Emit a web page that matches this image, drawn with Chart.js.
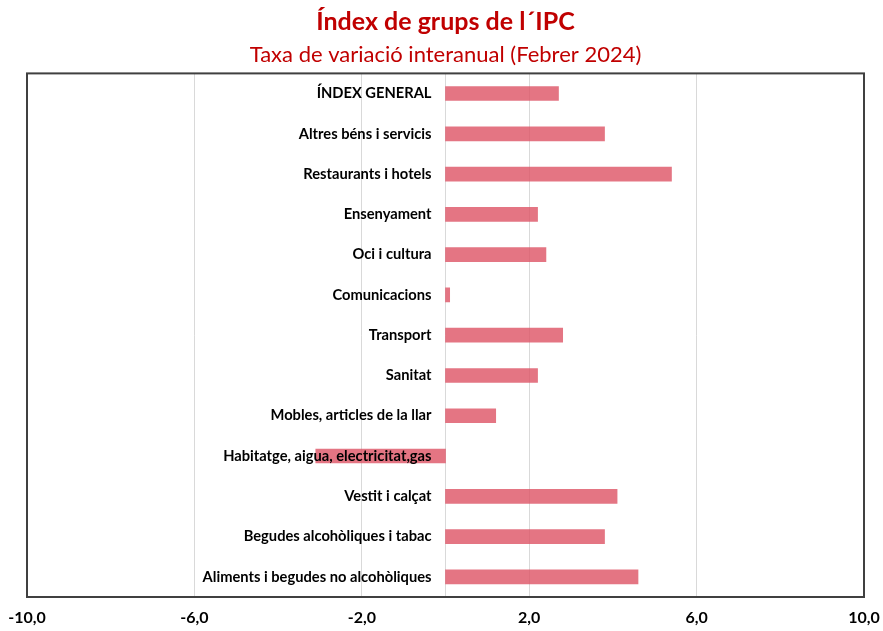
<!DOCTYPE html>
<html>
<head>
<meta charset="utf-8">
<script src="https://cdn.jsdelivr.net/npm/chart.js@4"></script>
<style>
  html, body { margin: 0; padding: 0; background: #fff; }
  #wrap { width: 883px; height: 631px; }
</style>
</head>
<body>
<div id="wrap"><canvas id="ipcChart"></canvas></div>
<script>
// Grups de l'IPC, de dalt a baix
const categories = [
    'ÍNDEX GENERAL',
    'Altres béns i servicis',
    'Restaurants i hotels',
    'Ensenyament',
    'Oci i cultura',
    'Comunicacions',
    'Transport',
    'Sanitat',
    'Mobles, articles de la llar',
    'Habitatge, aigua, electricitat,gas',
    'Vestit i calçat',
    'Begudes alcohòliques i tabac',
    'Aliments i begudes no alcohòliques'
];
// Taxa de variació interanual (%)
const values = [2.7, 3.8, 5.4, 2.2, 2.4, 0.1, 2.8, 2.2, 1.2, -3.1, 4.1, 3.8, 4.6];
const xTicks = [-10, -6, -2, 2, 6, 10];

const fontFamily = 'Lato, "Open Sans", sans-serif';

// marc de l'àrea del gràfic
const frame = {
    id: 'frame',
    afterDraw(chart) {
        const { ctx, chartArea: a } = chart;
        ctx.save();
        ctx.strokeStyle = '#404040';
        ctx.lineWidth = 2;
        ctx.strokeRect(a.left, a.top, a.right - a.left, a.bottom - a.top);
        ctx.restore();
    }
};

// etiquetes de categoria a l'esquerra del zero, per damunt de les barres
const groupLabels = {
    id: 'groupLabels',
    afterDatasetsDraw(chart) {
        const { ctx, scales: { x, y } } = chart;
        const x0 = x.getPixelForValue(0) - 14;
        ctx.save();
        ctx.font = 'bold 14.7px ' + fontFamily;
        ctx.fillStyle = '#000';
        ctx.textAlign = 'right';
        ctx.textBaseline = 'middle';
        categories.forEach((label, i) => {
            ctx.fillText(label, x0, y.getPixelForValue(i));
        });
        ctx.restore();
    }
};

const ctx = document.getElementById('ipcChart').getContext('2d');
new Chart(ctx, {
    type: 'bar',
    data: {
        labels: categories,
        datasets: [{
            data: values,
            backgroundColor: 'rgba(221, 82, 100, 0.8)',
            barThickness: 14
        }]
    },
    options: {
        indexAxis: 'y',
        responsive: true,
        maintainAspectRatio: false,
        animation: false,
        layout: { padding: { left: 27, right: 19, top: 0, bottom: 4 } },
        plugins: {
            legend: { display: false },
            tooltip: { enabled: false },
            title: {
                display: true,
                text: 'Índex de grups de l´IPC',
                color: '#C00000',
                font: { family: fontFamily, size: 25, weight: 'bold' },
                padding: { top: 7, bottom: 1 }
            },
            subtitle: {
                display: true,
                text: 'Taxa de variació interanual (Febrer 2024)',
                color: '#C00000',
                font: { family: fontFamily, size: 22 },
                padding: { top: 4, bottom: 5 }
            }
        },
        scales: {
            x: {
                min: -10,
                max: 10,
                afterBuildTicks: (axis) => { axis.ticks = xTicks.map(v => ({ value: v })); },
                afterFit: (axis) => {
                    axis.paddingLeft = 0;
                    axis.paddingRight = 0;
                    axis.height = 30;
                },
                grid: { color: '#d9d9d9', drawTicks: false },
                border: { display: false },
                ticks: {
                    padding: 11,
                    color: '#000',
                    font: { family: fontFamily, size: 16, weight: 'bold' },
                    callback: (v) => v.toFixed(1).replace('.', ',')
                }
            },
            y: {
                position: { x: 0 },
                grid: { display: false, drawTicks: false },
                border: { display: true, color: '#d9d9d9' },
                ticks: { display: false }
            }
        }
    },
    plugins: [frame, groupLabels]
});
</script>
</body>
</html>
